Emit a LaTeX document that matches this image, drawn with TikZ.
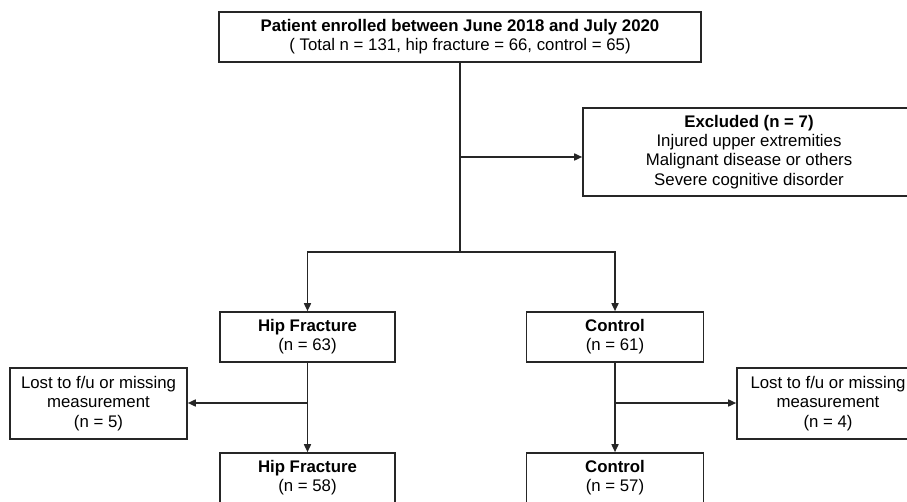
\documentclass[tikz,border=0pt]{standalone}
\usepackage{fontspec}
\setmainfont{Liberation Sans}
\usetikzlibrary{arrows.meta}
\begin{document}
\begin{tikzpicture}[x=1pt,y=-1pt,
  box/.style={draw=black!85,line width=1.6pt,rectangle,align=center,inner sep=0pt,
    font=\fontsize{16.8}{19.3}\selectfont},
  conn/.style={draw=black!85,line width=1.6pt},
  arr/.style={conn,-{Triangle[length=8pt,width=7pt]}}]
\useasboundingbox (0,0) rectangle (907,502);
\clip (0,0) rectangle (907,502);
\node[box,minimum width=482,minimum height=50] (top) at (460,37)
  {\textbf{Patient enrolled between June 2018 and July 2020}\\( Total n = 131, hip fracture = 66, control = 65)};
\node[box,minimum width=332,minimum height=88] (excl) at (749,152)
  {\textbf{Excluded (n = 7)}\\Injured upper extremities\\Malignant disease or others\\Severe cognitive disorder};
\node[box,minimum width=175,minimum height=50] (hipa) at (307.5,337)
  {\textbf{Hip Fracture}\\(n = 63)};
\node[box,minimum width=177,minimum height=50] (ctla) at (615,337)
  {\textbf{Control}\\(n = 61)};
\node[box,minimum width=177,minimum height=71] (lostl) at (98.5,403.5)
  {Lost to f/u or missing\\measurement\\(n = 5)};
\node[box,minimum width=182,minimum height=71] (lostr) at (828,403.5)
  {Lost to f/u or missing\\measurement\\(n = 4)};
\node[box,minimum width=175,minimum height=50] (hipb) at (307.5,478)
  {\textbf{Hip Fracture}\\(n = 58)};
\node[box,minimum width=177,minimum height=50] (ctlb) at (615,478)
  {\textbf{Control}\\(n = 57)};
\coordinate (split) at (460,252);
\coordinate (exj) at (460,157);
\coordinate (lj) at (307.5,403);
\coordinate (rj) at (615,403);
\draw[conn] (top.south) -- (split);
\draw[arr] (exj) -- (exj -| excl.west);
\draw[arr] (split) -| (hipa.north);
\draw[arr] (split) -| (ctla.north);
\draw[arr] (hipa.south) -- (hipb.north);
\draw[arr] (ctla.south) -- (ctlb.north);
\draw[arr] (lj) -- (lj -| lostl.east);
\draw[arr] (rj) -- (rj -| lostr.west);
\end{tikzpicture}
\end{document}
